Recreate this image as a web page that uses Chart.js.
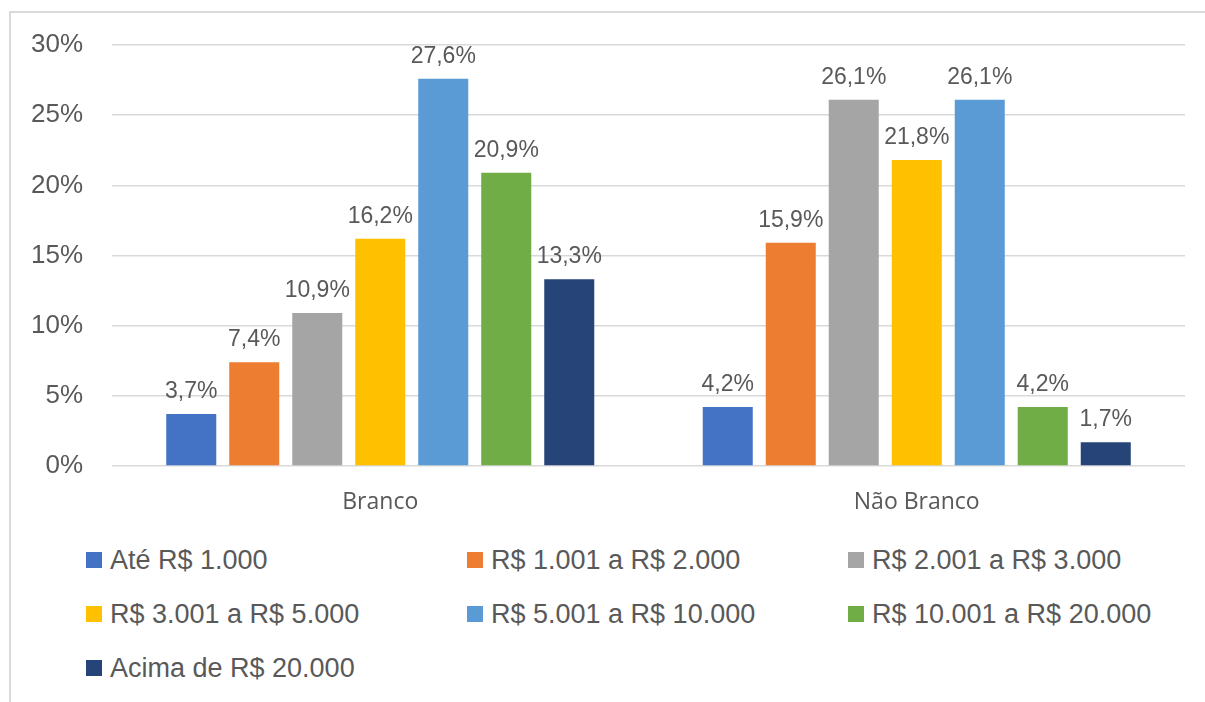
<!DOCTYPE html>
<html lang="pt-BR">
<head>
<meta charset="utf-8">
<script src="https://cdn.jsdelivr.net/npm/chart.js@4"></script>
<style>
  html, body { margin: 0; padding: 0; background: #fff; }
  #wrap { position: relative; width: 1205px; height: 702px; overflow: hidden; }
  #frame {
    position: absolute; left: 9px; top: 11px; width: 1300px; height: 800px;
    border-left: 2px solid #d9d9d9; border-top: 2px solid #d9d9d9;
  }
  #chart { position: absolute; left: 0; top: 0; }
  #legend { position: absolute; left: 86px; top: 0; }
  .item {
    position: absolute; display: flex; align-items: center; white-space: nowrap;
    font-family: "Liberation Sans", Arial, sans-serif; font-size: 27px; color: #595959;
    height: 30px; margin-top: -15px;
  }
  .swatch { width: 16px; height: 16px; margin-right: 8px; }
</style>
</head>
<body>
<div id="wrap">
  <div id="frame"></div>
  <canvas id="chart" width="1205" height="530"></canvas>
  <div id="legend"></div>
</div>
<script>
const categories = ["Branco", "Não Branco"];
const incomeBands = [
  "Até R$ 1.000",
  "R$ 1.001 a R$ 2.000",
  "R$ 2.001 a R$ 3.000",
  "R$ 3.001 a R$ 5.000",
  "R$ 5.001 a R$ 10.000",
  "R$ 10.001 a R$ 20.000",
  "Acima de R$ 20.000",
];
const branco = [3.7, 7.4, 10.9, 16.2, 27.6, 20.9, 13.3];
const naoBranco = [4.2, 15.9, 26.1, 21.8, 26.1, 4.2, 1.7];
const colors = ["#4472C4", "#ED7D31", "#A5A5A5", "#FFC000", "#5B9BD5", "#70AD47", "#264478"];
const yTicks = [0, 5, 10, 15, 20, 25, 30];

const textColor = "#595959";
const fmt = (v) => v.toFixed(1).replace(".", ",") + "%";

const valueLabels = {
  id: "valueLabels",
  afterDatasetsDraw(chart) {
    const ctx = chart.ctx;
    ctx.save();
    ctx.font = '23px "Liberation Sans", Arial, sans-serif';
    ctx.fillStyle = textColor;
    ctx.textAlign = "center";
    ctx.textBaseline = "alphabetic";
    chart.data.datasets.forEach((ds, i) => {
      chart.getDatasetMeta(i).data.forEach((bar, j) => {
        ctx.fillText(fmt(ds.data[j]), bar.x, bar.y - 16);
      });
    });
    ctx.restore();
  },
};

new Chart(document.getElementById("chart"), {
  type: "bar",
  data: {
    labels: categories,
    datasets: incomeBands.map((label, i) => ({
      label,
      data: [branco[i], naoBranco[i]],
      backgroundColor: colors[i],
      categoryPercentage: 0.822,
      barPercentage: 0.794,
    })),
  },
  options: {
    responsive: false,
    animation: false,
    layout: { padding: { top: 45, right: 20, left: 0, bottom: 0 } },
    plugins: { legend: { display: false }, tooltip: { enabled: false } },
    scales: {
      x: {
        grid: { display: false },
        border: { display: false },
        ticks: {
          color: textColor,
          font: { family: "'Open Sans', sans-serif", size: 23 },
          padding: 15,
        },
        afterFit(scale) { scale.height = 64; },
      },
      y: {
        min: 0,
        max: 30,
        afterBuildTicks(scale) { scale.ticks = yTicks.map((v) => ({ value: v })); },
        grid: { color: "#d9d9d9", drawTicks: false, lineWidth: 1.5 },
        border: { display: false },
        ticks: {
          color: textColor,
          font: { family: "'Liberation Sans', Arial, sans-serif", size: 26 },
          padding: 29,
          callback: (v) => v + "%",
        },
        afterFit(scale) { scale.width = 112; },
      },
    },
  },
  plugins: [valueLabels],
});

// legend in three fixed columns, like the original
const legend = document.getElementById("legend");
const rowY = [560, 614, 668];
incomeBands.forEach((label, i) => {
  const el = document.createElement("div");
  el.className = "item";
  el.style.left = (i % 3) * 381 + "px";
  el.style.top = rowY[Math.floor(i / 3)] + "px";
  el.innerHTML = `<span class="swatch" style="background:${colors[i]}"></span>${label}`;
  legend.appendChild(el);
});
</script>
</body>
</html>
